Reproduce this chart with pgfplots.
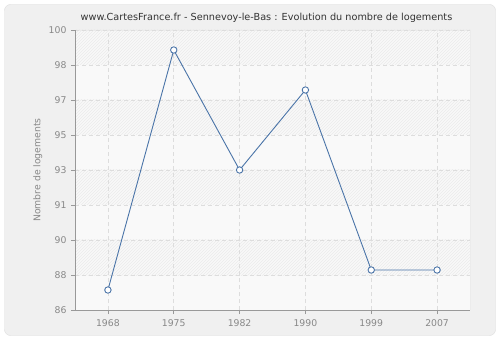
\documentclass[border=0pt]{standalone}
\usepackage{pgfplots}
\pgfplotsset{compat=1.18}
\usepackage{fontspec}
\setmainfont{DejaVu Sans}
\usetikzlibrary{patterns}
\definecolor{bgout}{HTML}{F0F0F0}
\definecolor{bgborder}{HTML}{DDDDDD}
\definecolor{plotbg}{HTML}{F9F9F9}
\definecolor{hatch}{HTML}{EBEBEB}
\definecolor{gridc}{HTML}{DDDDDD}
\definecolor{axisc}{HTML}{999999}
\definecolor{tickc}{HTML}{888888}
\definecolor{linec}{HTML}{4A74A8}
\definecolor{titlec}{HTML}{333333}
\begin{document}
\begin{tikzpicture}[x=1pt,y=1pt]
\fill[white] (0,0) rectangle (500,340);
\filldraw[fill=bgout,draw=bgborder,rounded corners=6pt] (4.5,4.5) rectangle (495.5,335.5);
\fill[plotbg] (75,30) rectangle (470,310);
\foreach \b in {65,135,205,275} {
  \fill[pattern=north east lines, pattern color=hatch] (75,\b) rectangle (470,\b+35);
}
\draw[hatch, line width=0.7pt] (75,310) -- (470,310) -- (470,30);
\node[font=\fontsize{9.7}{12}\selectfont,text=titlec] at (266.5,322) {www.CartesFrance.fr - Sennevoy-le-Bas : Evolution du nombre de logements};
\begin{axis}[
  at={(75pt,30pt)}, anchor=south west,
  scale only axis, width=395pt, height=280pt,
  xmin=-0.5, xmax=5.5, ymin=86, ymax=100,
  xtick={0,1,2,3,4,5},
  xticklabels={1968,1975,1982,1990,1999,2007},
  ytick={86,87.75,89.5,91.25,93,94.75,96.5,98.25,100},
  yticklabels={86,88,90,91,93,95,97,98,100},
  axis x line*=bottom, axis y line*=left,
  axis line style={axisc, line width=0.8pt},
  tick style={axisc, line width=0.8pt},
  tick align=outside,
  major tick length=4pt,
  grid=major,
  major grid style={gridc, line width=0.7pt, dash pattern=on 4pt off 3pt},
  ticklabel style={font=\fontsize{9.3}{11}\selectfont, text=tickc},
  xticklabel style={yshift=-2pt},
  yticklabel style={xshift=-1pt},
  ylabel={Nombre de logements},
  ylabel style={font=\fontsize{9.3}{11}\selectfont, text=tickc, at={(axis description cs:-0.094,0.5)}, anchor=center},
  clip=false,
]
\addplot[linec, line width=0.9pt, mark=*, mark size=3.2pt, mark options={fill=white, draw=linec, line width=0.9pt}] coordinates {
  (0,87) (1,99) (2,93) (3,97) (4,88) (5,88)
};
\end{axis}
\end{tikzpicture}
\end{document}
